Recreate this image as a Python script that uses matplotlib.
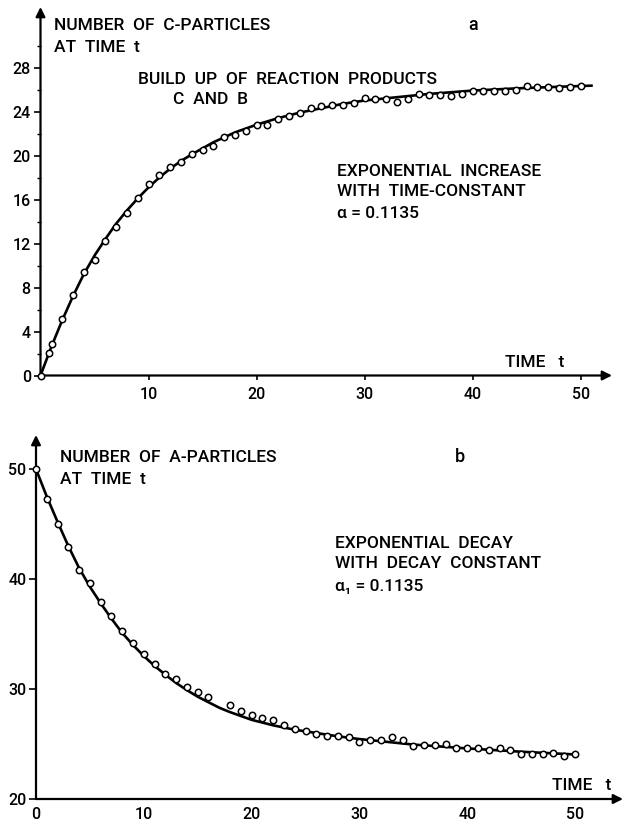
import matplotlib
matplotlib.use("Agg")
import matplotlib.pyplot as plt
from matplotlib import font_manager

names = {f.name for f in font_manager.fontManager.ttflist}
if 'Roboto' in names:
    FAM = ['Roboto', 'DejaVu Sans']
    TXT_SIZE, TXT_W = 12.5, 'medium'
else:
    FAM = ['DejaVu Sans']
    TXT_SIZE, TXT_W = 11.5, 'normal'
plt.rcParams['font.family'] = FAM
plt.rcParams['mathtext.fontset'] = 'dejavusans'

W, H = 624, 823

# ---------------- data (panel a: C-particles) ----------------
t_c = [0, 0.75, 1.1, 2, 3, 4, 5, 6, 7, 8, 9, 10,
       11, 12, 13, 14, 15, 16, 17, 18, 19, 20,
       21, 22, 23, 24, 25, 26, 27, 28, 29, 30,
       31, 32, 33, 34, 35, 36, 37, 38, 39, 40,
       41, 42, 43, 44, 45, 46, 47, 48, 49, 50]
c_points = [0, 2.05, 2.87, 5.1, 7.33, 9.4, 10.5, 12.2, 13.5, 14.8, 16.1, 17.4,
            18.2, 18.95, 19.4, 20.1, 20.5, 20.9, 21.7, 21.9, 22.2, 22.75,
            22.8, 23.3, 23.6, 23.9, 24.3, 24.5, 24.55, 24.6, 24.8, 25.25,
            25.15, 25.1, 24.9, 25.15, 25.6, 25.5, 25.5, 25.45, 25.6, 25.9,
            25.9, 25.9, 25.9, 26.0, 26.3, 26.25, 26.25, 26.1, 26.25, 26.3]
t_c_curve = [0, 1, 2, 3, 4, 5, 6, 7, 8, 9, 10, 11, 12, 13, 14, 16, 18, 20,
             22, 24, 26, 28, 30, 33, 36, 40, 44, 48, 51]
c_curve = [0, 2.6, 5.0, 7.2, 9.2, 10.9, 12.4, 13.8, 15.0, 16.1, 17.1, 18.0,
           18.8, 19.5, 20.1, 21.2, 22.1, 22.8, 23.4, 23.9, 24.3, 24.7, 25.0,
           25.3, 25.6, 25.9, 26.1, 26.25, 26.35]

# ---------------- data (panel b: A-particles) ----------------
t_a = [0, 1, 2, 3, 4, 5, 6, 7, 8, 9, 10, 11, 12, 13, 14, 15, 16,
       18, 19, 20, 21, 22, 23, 24, 25, 26, 27, 28, 29, 30,
       31, 32, 33, 34, 35, 36, 37, 38, 39, 40,
       41, 42, 43, 44, 45, 46, 47, 48, 49, 50]
a_points = [50, 47.3, 45.0, 42.9, 40.8, 39.6, 37.95, 36.6, 35.3, 34.2, 33.15,
            32.25, 31.4, 30.9, 30.15, 29.7, 29.3,
            28.55, 28.0, 27.6, 27.4, 27.2, 26.7, 26.4, 26.2, 25.9, 25.7, 25.75,
            25.6, 25.2, 25.4, 25.4, 25.65, 25.35, 24.85, 24.95, 24.95, 25.0,
            24.6, 24.6, 24.6, 24.5, 24.6, 24.45, 24.1, 24.1, 24.1, 24.2, 23.95,
            24.05]
t_a_curve = [0, 1, 2, 3, 4, 5, 6, 7, 8, 9, 10, 11, 12, 13, 14, 15, 16, 17,
             18, 19, 20, 21, 22, 23, 24, 25, 26, 28, 30, 32, 35, 40, 45, 50]
a_curve = [50, 47.5, 45.2, 43.0, 41.0, 39.3, 37.8, 36.4, 35.1, 34.0, 33.0,
           32.1, 31.3, 30.55, 29.9, 29.3, 28.8, 28.3, 27.9, 27.55, 27.2, 26.95,
           26.7, 26.5, 26.3, 26.15, 26.0, 25.7, 25.45, 25.25, 24.95, 24.6,
           24.3, 24.05]

x_ticks = [10, 20, 30, 40, 50]
x_ticks_b = [0, 10, 20, 30, 40, 50]
y_ticks_a = [0, 4, 8, 12, 16, 20, 24, 28]
y_minor_a = [2, 6, 10, 14, 18, 22, 26, 30]
y_ticks_b = [20, 30, 40, 50]

fig = plt.figure(figsize=(W / 100, H / 100), dpi=100)


def px_axes(x0, y0, x1, y1):
    return fig.add_axes([x0 / W, 1 - y1 / H, (x1 - x0) / W, (y1 - y0) / H])


def ftext(x, y, s, **kw):
    kw.setdefault('fontsize', TXT_SIZE)
    kw.setdefault('fontweight', TXT_W)
    kw.setdefault('va', 'center')
    kw.setdefault('ha', 'left')
    fig.text(x / W, 1 - y / H, s, **kw)


def style(ax):
    for sp in ax.spines.values():
        sp.set_visible(False)
    for xy in [(1, 0), (0, 1)]:
        ax.annotate('', xy=xy, xytext=(0, 0), xycoords='axes fraction',
                    arrowprops=dict(arrowstyle='-|>', lw=1.6, color='black',
                                    mutation_scale=14, shrinkA=0, shrinkB=0))
    ax.tick_params(axis='both', which='major', labelsize=11.5,
                   direction='out', width=1.2)
    ax.tick_params(axis='y', which='major', length=5, pad=2)
    ax.tick_params(axis='y', which='minor', length=3, width=1.0)
    ax.tick_params(axis='x', which='major', length=3, pad=5)
    ax.patch.set_visible(False)


def boldify(ax):
    for lab in ax.get_xticklabels() + ax.get_yticklabels():
        lab.set_fontweight(TXT_W)


# ---------------- panel a ----------------
ax1 = px_axes(40.5, 7, 612, 375.5)
ax1.set_xlim(0, 52.9)
ax1.set_ylim(0, 33.5)
style(ax1)
ax1.plot(t_c_curve, c_curve, color='black', lw=1.9, zorder=2, clip_on=False)
ax1.plot(t_c, c_points, linestyle='none', marker='o', ms=4.6, mfc='white',
         mec='black', mew=1.1, zorder=3, clip_on=False)
ax1.set_xticks(x_ticks)
ax1.set_yticks(y_ticks_a)
ax1.set_yticks(y_minor_a, minor=True)
boldify(ax1)

ftext(54, 25, "NUMBER  OF  C-PARTICLES")
ftext(54, 47, "AT  TIME  t")
ftext(468, 25, "a", fontsize=TXT_SIZE + 0.5)
ftext(138, 79, "BUILD  UP  OF  REACTION  PRODUCTS")
ftext(173, 100, "C  AND  B")
ftext(337, 171, "EXPONENTIAL  INCREASE")
ftext(337, 191, "WITH  TIME-CONSTANT")
ftext(337, 213, "α = 0.1135")
ftext(505, 362, "TIME   t")

# ---------------- panel b ----------------
ax2 = px_axes(36, 435, 623, 799)
ax2.set_xlim(0, 54.45)
ax2.set_ylim(20, 53.1)
style(ax2)
ax2.plot(t_a_curve, a_curve, color='black', lw=1.9, zorder=2, clip_on=False)
ax2.plot(t_a, a_points, linestyle='none', marker='o', ms=4.6, mfc='white',
         mec='black', mew=1.1, zorder=3, clip_on=False)
ax2.set_xticks(x_ticks_b)
ax2.set_yticks(y_ticks_b)
ax2.tick_params(axis='x', which='major', length=0, pad=6)
boldify(ax2)

ftext(60, 457, "NUMBER  OF  A-PARTICLES")
ftext(60, 479, "AT  TIME  t")
ftext(455, 457, "b", fontsize=TXT_SIZE + 0.5)
ftext(335, 544, "EXPONENTIAL  DECAY")
ftext(335, 564, "WITH  DECAY  CONSTANT")
ftext(335, 587, "α₁ = 0.1135")
ftext(552, 785, "TIME   t")

fig.savefig("out.png", dpi=100)
